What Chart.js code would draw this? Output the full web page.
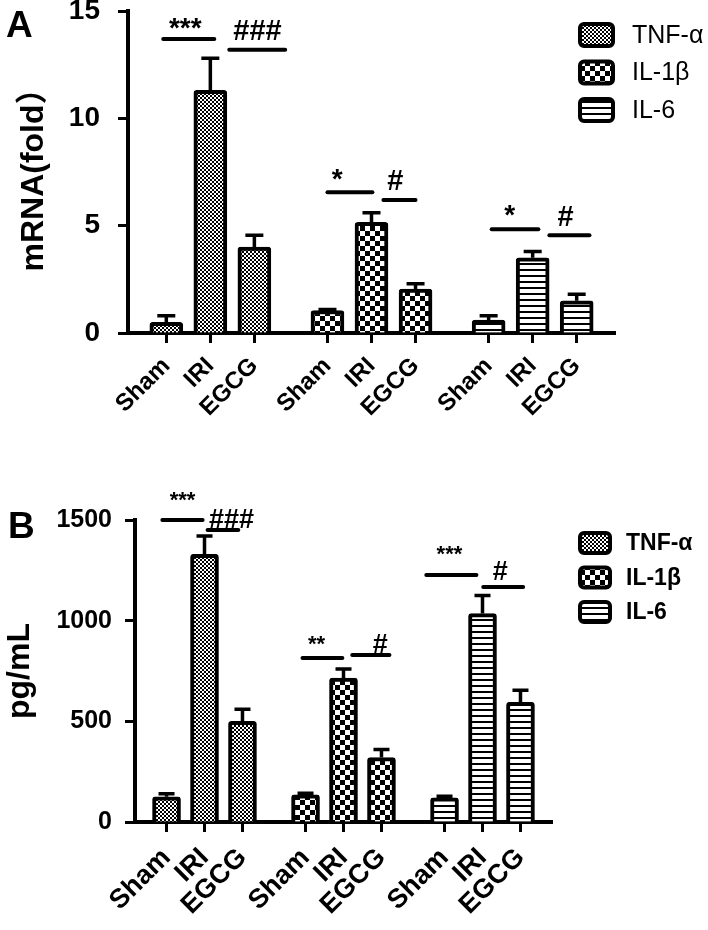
<!DOCTYPE html>
<html lang="en">
<head>
<meta charset="UTF-8" />
<title>TNF-α, IL-1β, IL-6</title>
<script src="https://cdn.jsdelivr.net/npm/chart.js"></script>
<style>
  body { margin: 0; background: #fff; overflow: hidden; }
  canvas { display: block; }
  /* panel A keeps extra room above for its tick label padding */
  #chartA { margin-top: -29px; }
</style>
</head>
<body>
<canvas id="chartA" width="708" height="494"></canvas>
<canvas id="chartB" width="708" height="465"></canvas>
<script>
const groups = ['Sham', 'IRI', 'EGCG'];
const cytokines = ['TNF-α', 'IL-1β', 'IL-6'];

// A: mRNA (fold)
const mrnaTnf = [0.5, 11.3, 4.0];
const mrnaTnfErr = [0.3, 1.5, 0.55];
const mrnaIl1b = [1.05, 5.15, 2.05];
const mrnaIl1bErr = [0.05, 0.45, 0.25];
const mrnaIl6 = [0.6, 3.5, 1.5];
const mrnaIl6Err = [0.2, 0.3, 0.3];
const yTicksA = [0, 5, 10, 15];

// B: pg/mL
const pgTnf = [125, 1330, 500];
const pgTnfErr = [15, 90, 60];
const pgIl1b = [135, 715, 320];
const pgIl1bErr = [8, 45, 40];
const pgIl6 = [120, 1035, 595];
const pgIl6Err = [8, 90, 60];
const yTicksB = [0, 500, 1000, 1500];

// significance marks: line from x1 to x2 at y, text centred at tx with baseline ty
const sigA = [
  { x1: -0.07, x2: 1.09, y: 13.7, text: '***', tx: 0.43, ty: 13.8 },
  { x1: 1.43, x2: 2.70, y: 13.2, text: '###', tx: 2.07, ty: 13.65 },
  { x1: 3.66, x2: 4.68, y: 6.56, text: '*', tx: 3.88, ty: 6.75 },
  { x1: 4.93, x2: 5.66, y: 6.2, text: '#', tx: 5.2, ty: 6.65 },
  { x1: 7.39, x2: 8.45, y: 4.83, text: '*', tx: 7.8, ty: 5.1 },
  { x1: 8.70, x2: 9.61, y: 4.55, text: '#', tx: 9.07, ty: 5.0 }
];
const sigB = [
  { x1: -0.11, x2: 0.95, y: 1500, text: '***', tx: 0.42, ty: 1565 },
  { x1: 1.08, x2: 1.89, y: 1450, text: '###', tx: 1.71, ty: 1460 },
  { x1: 3.58, x2: 4.63, y: 815, text: '**', tx: 3.95, ty: 850 },
  { x1: 4.89, x2: 5.87, y: 830, text: '#', tx: 5.63, ty: 840 },
  { x1: 6.84, x2: 8.16, y: 1227, text: '***', tx: 7.45, ty: 1297 },
  { x1: 8.34, x2: 9.39, y: 1167, text: '#', tx: 8.79, ty: 1202 }
];

const GROUP_GAP = 3.66;
const xPos = [];
for (let g = 0; g < 3; g++) for (let i = 0; i < 3; i++) xPos.push(g * GROUP_GAP + i);

function makePattern(kind) {
  const c = document.createElement('canvas');
  const g = c.getContext('2d');
  if (kind === 'dots') {
    c.width = 4; c.height = 4;
    g.fillStyle = '#000'; g.fillRect(0, 0, 4, 4);
    g.fillStyle = '#fff'; g.fillRect(0, 0, 2, 2); g.fillRect(2, 2, 2, 2);
  } else if (kind === 'checks') {
    c.width = 10; c.height = 10;
    g.fillStyle = '#000'; g.fillRect(0, 0, 10, 10);
    g.fillStyle = '#fff'; g.fillRect(0, 0, 5, 5); g.fillRect(5, 5, 5, 5);
  } else {
    c.width = 6; c.height = 6;
    g.fillStyle = '#000'; g.fillRect(0, 0, 6, 6);
    g.fillStyle = '#fff'; g.fillRect(0, 0, 6, 4);
  }
  return g.createPattern(c, 'repeat');
}
const fills = [makePattern('dots'), makePattern('checks'), makePattern('stripes')];

const errorBars = {
  id: 'errorBars',
  afterDatasetsDraw(chart, args, opts) {
    const ctx = chart.ctx;
    const y = chart.scales.y;
    ctx.save();
    ctx.strokeStyle = '#000';
    ctx.lineWidth = opts.width;
    chart.data.datasets.forEach((ds, di) => {
      chart.getDatasetMeta(di).data.forEach((bar, i) => {
        const top = y.getPixelForValue(ds.data[i].y + ds.err[i]);
        ctx.beginPath();
        ctx.moveTo(bar.x, bar.y);
        ctx.lineTo(bar.x, top);
        ctx.moveTo(bar.x - opts.cap, top);
        ctx.lineTo(bar.x + opts.cap, top);
        ctx.stroke();
      });
    });
    ctx.restore();
  }
};

const sigMarks = {
  id: 'sigMarks',
  afterDraw(chart, args, opts) {
    const ctx = chart.ctx;
    const { x, y } = chart.scales;
    ctx.save();
    ctx.strokeStyle = '#000';
    ctx.fillStyle = '#000';
    ctx.lineWidth = 4;
    ctx.lineCap = 'round';
    ctx.textAlign = 'center';
    ctx.textBaseline = 'alphabetic';
    opts.marks.forEach(m => {
      ctx.beginPath();
      ctx.moveTo(x.getPixelForValue(m.x1), y.getPixelForValue(m.y));
      ctx.lineTo(x.getPixelForValue(m.x2), y.getPixelForValue(m.y));
      ctx.stroke();
      const size = m.text[0] === '*' ? opts.starSize : opts.hashSize;
      ctx.font = 'bold ' + size + 'px "Liberation Sans", Arial, sans-serif';
      ctx.fillText(m.text, x.getPixelForValue(m.tx), y.getPixelForValue(m.ty));
    });
    ctx.restore();
  }
};

const boxLegend = {
  id: 'boxLegend',
  afterDraw(chart, args, opts) {
    const ctx = chart.ctx;
    ctx.save();
    chart.data.datasets.forEach((ds, i) => {
      const top = opts.top + i * opts.step;
      ctx.beginPath();
      ctx.roundRect(opts.x + 2, top + 2, opts.w - 4, opts.h - 4, 4);
      ctx.fillStyle = ds.backgroundColor;
      ctx.fill();
      ctx.lineWidth = 4;
      ctx.strokeStyle = '#000';
      ctx.stroke();
      ctx.fillStyle = '#000';
      ctx.font = opts.font;
      ctx.textBaseline = 'middle';
      ctx.textAlign = 'left';
      ctx.fillText(ds.label, opts.textX, top + opts.h / 2 + 1);
    });
    ctx.restore();
  }
};

const panelLetter = {
  id: 'panelLetter',
  afterDraw(chart, args, opts) {
    const ctx = chart.ctx;
    ctx.save();
    ctx.fillStyle = '#000';
    ctx.font = 'bold 37px "Liberation Sans", Arial, sans-serif';
    ctx.textBaseline = 'alphabetic';
    ctx.fillText(opts.text, opts.x, opts.y);
    ctx.restore();
  }
};

function buildChart(id, p) {
  const datasets = cytokines.map((name, s) => ({
    label: name,
    data: groups.map((_, i) => ({ x: s * GROUP_GAP + i, y: p.values[s][i] })),
    err: p.errors[s],
    backgroundColor: fills[s],
    borderColor: '#000',
    borderWidth: 4,
    borderRadius: 3,
    borderSkipped: 'bottom',
    barThickness: p.barW,
    grouped: false
  }));
  return new Chart(document.getElementById(id), {
    type: 'bar',
    data: { datasets },
    options: {
      responsive: false,
      animation: false,
      layout: { padding: { top: p.padTop, right: p.padRight, left: 0, bottom: 0 } },
      plugins: {
        legend: { display: false },
        tooltip: { enabled: false },
        errorBars: { width: 3.5, cap: p.cap },
        sigMarks: { marks: p.sig, starSize: p.starSize, hashSize: p.hashSize },
        boxLegend: p.legend,
        panelLetter: p.letter
      },
      scales: {
        x: {
          type: 'linear',
          min: -p.xPad,
          max: xPos[xPos.length - 1] + p.xPad,
          offset: false,
          afterBuildTicks: s => { s.ticks = xPos.map(v => ({ value: v })); },
          afterFit: s => { s.height = p.xHeight; },
          ticks: {
            autoSkip: false, minRotation: 45, maxRotation: 45, padding: p.xLabelPad,
            color: '#000',
            font: { family: '"Liberation Sans", Arial, sans-serif', weight: 'bold', size: p.xFont },
            callback: (v, i) => groups[i % 3]
          },
          grid: { drawOnChartArea: false, tickLength: 10, tickWidth: 3, tickColor: '#000', offset: false },
          border: { color: '#000', width: 4 }
        },
        y: {
          min: 0,
          max: p.yTicks[p.yTicks.length - 1],
          afterBuildTicks: s => { s.ticks = p.yTicks.map(v => ({ value: v })); },
          afterFit: s => { s.width = p.yWidth; },
          ticks: {
            color: '#000', padding: p.yLabelPad,
            font: { family: p.yTickFamily, weight: 'bold', size: p.yFont },
            callback: v => String(v)
          },
          grid: { drawOnChartArea: false, tickLength: 10, tickWidth: 3, tickColor: '#000' },
          border: { color: '#000', width: 4 },
          title: {
            display: true, text: p.yTitle, color: '#000',
            font: { family: '"Liberation Sans", "Noto Sans CJK SC", Arial, sans-serif', weight: 'bold', size: p.titleSize },
            padding: { top: p.titlePad, bottom: 0 }
          }
        }
      }
    },
    plugins: [errorBars, sigMarks, boxLegend, panelLetter]
  });
}

buildChart('chartA', {
  values: [mrnaTnf, mrnaIl1b, mrnaIl6],
  errors: [mrnaTnfErr, mrnaIl1bErr, mrnaIl6Err],
  yTicks: yTicksA,
  yTitle: 'mRNA(fold）',
  sig: sigA,
  barW: 33, cap: 9, xPad: 0.87,
  padTop: 40, padRight: 93, xHeight: 132, yWidth: 128,
  xFont: 24, xLabelPad: 9,
  yFont: 28, yLabelPad: 18, yTickFamily: '"Liberation Sans Narrow", "Liberation Sans", Arial, sans-serif',
  titleSize: 32, titlePad: 15,
  starSize: 28, hashSize: 29,
  legend: { x: 578, top: 51, step: 37.5, w: 37, h: 26, textX: 632, font: '25px "Liberation Sans", Arial, sans-serif' },
  letter: { text: 'A', x: 6, y: 66 }
});

buildChart('chartB', {
  values: [pgTnf, pgIl1b, pgIl6],
  errors: [pgTnfErr, pgIl1bErr, pgIl6Err],
  yTicks: yTicksB,
  yTitle: 'pg/mL',
  sig: sigB,
  barW: 28, cap: 8, xPad: 0.83,
  padTop: 55, padRight: 156, xHeight: 108, yWidth: 135,
  xFont: 27, xLabelPad: 10,
  yFont: 25, yLabelPad: 13, yTickFamily: '"Liberation Sans", Arial, sans-serif',
  titleSize: 32, titlePad: 1,
  starSize: 22, hashSize: 27,
  legend: { x: 578, top: 66, step: 34.5, w: 34, h: 24, textX: 626, font: 'bold 23px "Liberation Sans", Arial, sans-serif' },
  letter: { text: 'B', x: 8, y: 73 }
});
</script>
</body>
</html>
